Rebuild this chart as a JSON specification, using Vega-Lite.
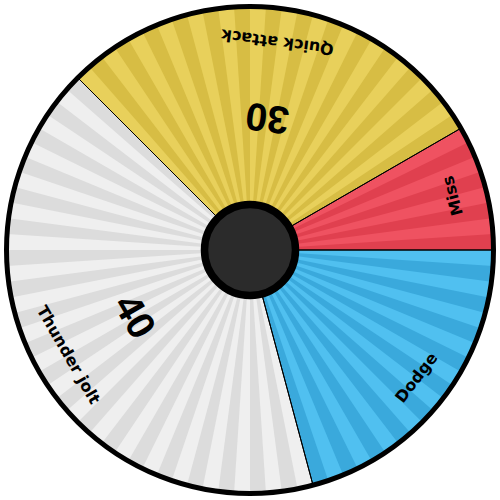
{
  "$schema": "https://vega.github.io/schema/vega-lite/v6.json",
  "width": 500,
  "height": 500,
  "padding": 0,
  "autosize": {"type": "fit", "contains": "padding"},
  "background": "white",
  "view": {"stroke": null},
  "datasets": {
    "segments": [
      {"i": 0, "seg": "Quick attack", "units": 28, "dmg": "30"},
      {"i": 1, "seg": "Miss", "units": 8, "dmg": null},
      {"i": 2, "seg": "Dodge", "units": 20, "dmg": null},
      {"i": 3, "seg": "Thunder jolt", "units": 40, "dmg": "40"}
    ],
    "stripes": [
      {"i": 0, "seg": "Quick attack", "dark": 0, "w": 1}, {"i": 1, "seg": "Quick attack", "dark": 1, "w": 1},
      {"i": 2, "seg": "Quick attack", "dark": 0, "w": 1}, {"i": 3, "seg": "Quick attack", "dark": 1, "w": 1},
      {"i": 4, "seg": "Quick attack", "dark": 0, "w": 1}, {"i": 5, "seg": "Quick attack", "dark": 1, "w": 1},
      {"i": 6, "seg": "Quick attack", "dark": 0, "w": 1}, {"i": 7, "seg": "Quick attack", "dark": 1, "w": 1},
      {"i": 8, "seg": "Quick attack", "dark": 0, "w": 1}, {"i": 9, "seg": "Quick attack", "dark": 1, "w": 1},
      {"i": 10, "seg": "Quick attack", "dark": 0, "w": 1}, {"i": 11, "seg": "Quick attack", "dark": 1, "w": 1},
      {"i": 12, "seg": "Quick attack", "dark": 0, "w": 1}, {"i": 13, "seg": "Quick attack", "dark": 1, "w": 1},
      {"i": 14, "seg": "Quick attack", "dark": 0, "w": 1}, {"i": 15, "seg": "Quick attack", "dark": 1, "w": 1},
      {"i": 16, "seg": "Quick attack", "dark": 0, "w": 1}, {"i": 17, "seg": "Quick attack", "dark": 1, "w": 1},
      {"i": 18, "seg": "Quick attack", "dark": 0, "w": 1}, {"i": 19, "seg": "Quick attack", "dark": 1, "w": 1},
      {"i": 20, "seg": "Quick attack", "dark": 0, "w": 1}, {"i": 21, "seg": "Quick attack", "dark": 1, "w": 1},
      {"i": 22, "seg": "Quick attack", "dark": 0, "w": 1}, {"i": 23, "seg": "Quick attack", "dark": 1, "w": 1},
      {"i": 24, "seg": "Quick attack", "dark": 0, "w": 1}, {"i": 25, "seg": "Quick attack", "dark": 1, "w": 1},
      {"i": 26, "seg": "Quick attack", "dark": 0, "w": 1}, {"i": 27, "seg": "Quick attack", "dark": 1, "w": 1},
      {"i": 28, "seg": "Miss", "dark": 0, "w": 1}, {"i": 29, "seg": "Miss", "dark": 1, "w": 1},
      {"i": 30, "seg": "Miss", "dark": 0, "w": 1}, {"i": 31, "seg": "Miss", "dark": 1, "w": 1},
      {"i": 32, "seg": "Miss", "dark": 0, "w": 1}, {"i": 33, "seg": "Miss", "dark": 1, "w": 1},
      {"i": 34, "seg": "Miss", "dark": 0, "w": 1}, {"i": 35, "seg": "Miss", "dark": 1, "w": 1},
      {"i": 36, "seg": "Dodge", "dark": 0, "w": 1}, {"i": 37, "seg": "Dodge", "dark": 1, "w": 1},
      {"i": 38, "seg": "Dodge", "dark": 0, "w": 1}, {"i": 39, "seg": "Dodge", "dark": 1, "w": 1},
      {"i": 40, "seg": "Dodge", "dark": 0, "w": 1}, {"i": 41, "seg": "Dodge", "dark": 1, "w": 1},
      {"i": 42, "seg": "Dodge", "dark": 0, "w": 1}, {"i": 43, "seg": "Dodge", "dark": 1, "w": 1},
      {"i": 44, "seg": "Dodge", "dark": 0, "w": 1}, {"i": 45, "seg": "Dodge", "dark": 1, "w": 1},
      {"i": 46, "seg": "Dodge", "dark": 0, "w": 1}, {"i": 47, "seg": "Dodge", "dark": 1, "w": 1},
      {"i": 48, "seg": "Dodge", "dark": 0, "w": 1}, {"i": 49, "seg": "Dodge", "dark": 1, "w": 1},
      {"i": 50, "seg": "Dodge", "dark": 0, "w": 1}, {"i": 51, "seg": "Dodge", "dark": 1, "w": 1},
      {"i": 52, "seg": "Dodge", "dark": 0, "w": 1}, {"i": 53, "seg": "Dodge", "dark": 1, "w": 1},
      {"i": 54, "seg": "Dodge", "dark": 0, "w": 1}, {"i": 55, "seg": "Dodge", "dark": 1, "w": 1},
      {"i": 56, "seg": "Thunder jolt", "dark": 0, "w": 1}, {"i": 57, "seg": "Thunder jolt", "dark": 1, "w": 1},
      {"i": 58, "seg": "Thunder jolt", "dark": 0, "w": 1}, {"i": 59, "seg": "Thunder jolt", "dark": 1, "w": 1},
      {"i": 60, "seg": "Thunder jolt", "dark": 0, "w": 1}, {"i": 61, "seg": "Thunder jolt", "dark": 1, "w": 1},
      {"i": 62, "seg": "Thunder jolt", "dark": 0, "w": 1}, {"i": 63, "seg": "Thunder jolt", "dark": 1, "w": 1},
      {"i": 64, "seg": "Thunder jolt", "dark": 0, "w": 1}, {"i": 65, "seg": "Thunder jolt", "dark": 1, "w": 1},
      {"i": 66, "seg": "Thunder jolt", "dark": 0, "w": 1}, {"i": 67, "seg": "Thunder jolt", "dark": 1, "w": 1},
      {"i": 68, "seg": "Thunder jolt", "dark": 0, "w": 1}, {"i": 69, "seg": "Thunder jolt", "dark": 1, "w": 1},
      {"i": 70, "seg": "Thunder jolt", "dark": 0, "w": 1}, {"i": 71, "seg": "Thunder jolt", "dark": 1, "w": 1},
      {"i": 72, "seg": "Thunder jolt", "dark": 0, "w": 1}, {"i": 73, "seg": "Thunder jolt", "dark": 1, "w": 1},
      {"i": 74, "seg": "Thunder jolt", "dark": 0, "w": 1}, {"i": 75, "seg": "Thunder jolt", "dark": 1, "w": 1},
      {"i": 76, "seg": "Thunder jolt", "dark": 0, "w": 1}, {"i": 77, "seg": "Thunder jolt", "dark": 1, "w": 1},
      {"i": 78, "seg": "Thunder jolt", "dark": 0, "w": 1}, {"i": 79, "seg": "Thunder jolt", "dark": 1, "w": 1},
      {"i": 80, "seg": "Thunder jolt", "dark": 0, "w": 1}, {"i": 81, "seg": "Thunder jolt", "dark": 1, "w": 1},
      {"i": 82, "seg": "Thunder jolt", "dark": 0, "w": 1}, {"i": 83, "seg": "Thunder jolt", "dark": 1, "w": 1},
      {"i": 84, "seg": "Thunder jolt", "dark": 0, "w": 1}, {"i": 85, "seg": "Thunder jolt", "dark": 1, "w": 1},
      {"i": 86, "seg": "Thunder jolt", "dark": 0, "w": 1}, {"i": 87, "seg": "Thunder jolt", "dark": 1, "w": 1},
      {"i": 88, "seg": "Thunder jolt", "dark": 0, "w": 1}, {"i": 89, "seg": "Thunder jolt", "dark": 1, "w": 1},
      {"i": 90, "seg": "Thunder jolt", "dark": 0, "w": 1}, {"i": 91, "seg": "Thunder jolt", "dark": 1, "w": 1},
      {"i": 92, "seg": "Thunder jolt", "dark": 0, "w": 1}, {"i": 93, "seg": "Thunder jolt", "dark": 1, "w": 1},
      {"i": 94, "seg": "Thunder jolt", "dark": 0, "w": 1}, {"i": 95, "seg": "Thunder jolt", "dark": 1, "w": 1}
    ],
    "hub": [{"part": "hub"}]
  },
  "layer": [
    {
      "data": {"name": "segments"},
      "mark": {"type": "arc", "outerRadius": 243.5, "innerRadius": 0},
      "encoding": {
        "theta": {"field": "units", "type": "quantitative", "stack": true, "scale": {"domain": [0, 96], "range": [-0.7854, 5.4978]}},
        "order": {"field": "i", "type": "quantitative"},
        "color": {"field": "seg", "type": "nominal", "legend": null,
          "scale": {"domain": ["Quick attack", "Miss", "Dodge", "Thunder jolt"], "range": ["#e8d05b", "#ef5261", "#50c0f0", "#efefef"]}}
      }
    },
    {
      "data": {"name": "stripes"},
      "mark": {"type": "arc", "outerRadius": 243.5, "innerRadius": 0},
      "encoding": {
        "theta": {"field": "w", "type": "quantitative", "stack": true},
        "order": {"field": "i", "type": "quantitative"},
        "color": {"field": "seg", "type": "nominal", "legend": null,
          "scale": {"domain": ["Quick attack", "Miss", "Dodge", "Thunder jolt"], "range": ["#d7bd44", "#e0404f", "#3aa9dc", "#dcdcdc"]}},
        "fillOpacity": {"condition": {"test": "datum.dark === 1", "value": 1}, "value": 0}
      }
    },
    {
      "data": {"name": "segments"},
      "mark": {"type": "arc", "outerRadius": 243.5, "innerRadius": 0, "fill": "transparent", "stroke": "#000000", "strokeWidth": 1},
      "encoding": {
        "theta": {"field": "units", "type": "quantitative", "stack": true},
        "order": {"field": "i", "type": "quantitative"}
      }
    },
    {
      "data": {"name": "hub"},
      "mark": {"type": "arc", "theta": 0, "theta2": 6.2832, "outerRadius": 243.5, "innerRadius": 0, "fill": "transparent", "stroke": "#000000", "strokeWidth": 5},
      "encoding": {}
    },
    {
      "data": {"name": "hub"},
      "mark": {"type": "arc", "theta": 0, "theta2": 6.2832, "outerRadius": 45.5, "innerRadius": 0, "fill": "#2b2b2b", "stroke": "#000000", "strokeWidth": 7.5},
      "encoding": {}
    },
    {
      "data": {"name": "segments"},
      "mark": {"type": "text", "radius": 210, "font": "DejaVu Sans", "fontWeight": "bold", "fontSize": 16, "align": "center", "baseline": "middle", "color": "#000000"},
      "encoding": {
        "theta": {"field": "units", "type": "quantitative", "stack": true},
        "order": {"field": "i", "type": "quantitative"},
        "text": {"field": "seg", "type": "nominal"},
        "angle": {"condition": [
          {"test": "datum.seg === 'Miss'", "value": 255},
          {"test": "datum.seg === 'Dodge'", "value": 307.5},
          {"test": "datum.seg === 'Thunder jolt'", "value": 60}
        ], "value": 187.5}
      }
    },
    {
      "data": {"name": "segments"},
      "mark": {"type": "text", "radius": 134, "font": "Liberation Sans", "fontWeight": "bold", "fontSize": 39, "align": "center", "baseline": "middle", "color": "#000000"},
      "encoding": {
        "theta": {"field": "units", "type": "quantitative", "stack": true},
        "order": {"field": "i", "type": "quantitative"},
        "text": {"condition": {"test": "datum.dmg != null", "field": "dmg", "type": "nominal"}, "value": ""},
        "angle": {"condition": [
          {"test": "datum.seg === 'Thunder jolt'", "value": 60}
        ], "value": 187.5}
      }
    }
  ],
  "resolve": {"scale": {"color": "independent"}}
}
